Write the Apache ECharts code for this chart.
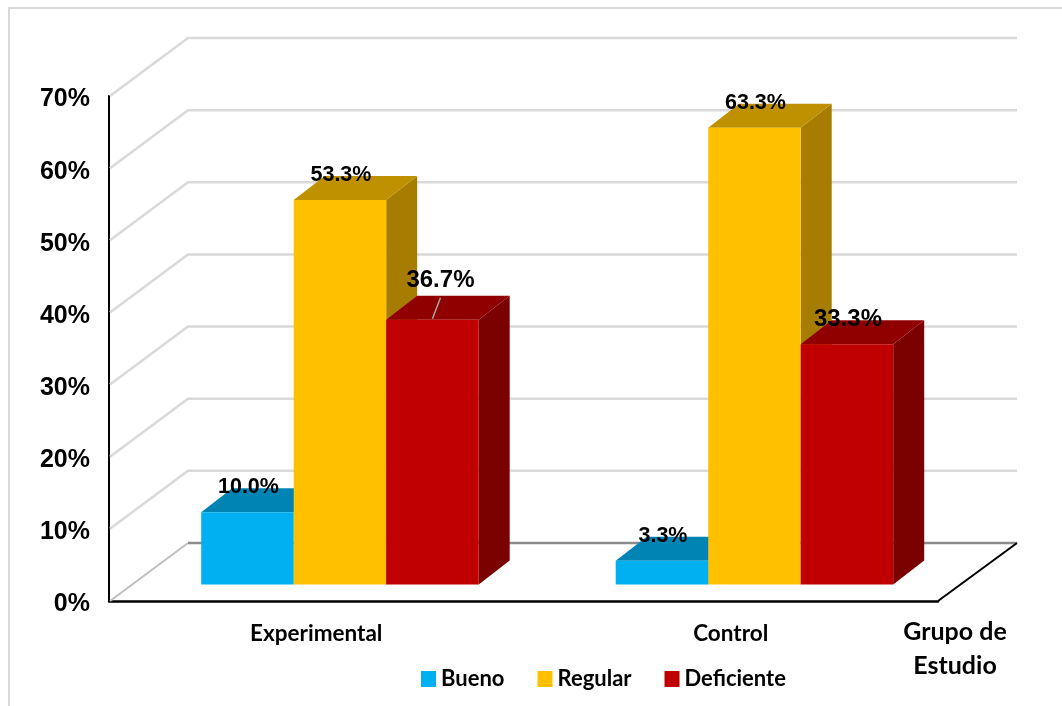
<!DOCTYPE html>
<html>
<head>
<meta charset="utf-8">
<style>html,body{margin:0;padding:0;background:#fff}#chart{width:1062px;height:706px}</style>
<script src="https://cdn.jsdelivr.net/npm/echarts@6/dist/echarts.min.js"></script>
</head>
<body>
<div id="chart"></div>
<script>
// Percentage of each rating per study group
const categories = ['Experimental', 'Control'];
const bueno = [10.0, 3.3];
const regular = [53.3, 63.3];
const deficiente = [36.7, 33.3];
const yTicks = [0, 10, 20, 30, 40, 50, 60, 70];

// Face colours of each prism: front, top, side
const palette = {
  Bueno: ['#00B0F0', '#0084B4', '#0084B4'],
  Regular: ['#FFC000', '#BF9000', '#A67D00'],
  Deficiente: ['#C00000', '#900000', '#7B0000']
};
// Label font size per category for each series
const labelSizes = { Bueno: [21.5, 21.5], Regular: [21.5, 21.5], Deficiente: [24, 24] };

// Oblique projection used for the fake 3D box, in pixels
const WALL = [79, -58];
const PLANE = [23.7, -16.5];
const DEPTH = [31, -24];
const BAR_W = 92.5;

function poly(points, fill) {
  return { type: 'polygon', shape: { points }, style: { fill } };
}
function line(points, stroke, width) {
  return { type: 'polyline', shape: { points }, style: { stroke, lineWidth: width, fill: 'none' }, silent: true };
}

// Walls and floor: one gridline per y tick, running up the side wall and along the back
function renderWall(params, api) {
  const rect = params.coordSys;
  const v = api.value(0);
  const y = api.coord([0, v])[1];
  const x0 = rect.x + 1;
  const xb = rect.x + WALL[0];
  const yb = y + WALL[1];
  const xe = rect.x + rect.width + WALL[0];
  const children = [];
  if (v === 0) {
    children.push(line([[x0, y], [xb, yb]], '#BFBFBF', 2));
    children.push(line([[xb, yb], [xe, yb]], '#8C8C8C', 2.5));
    children.push(line([[rect.x + rect.width, y], [xe, yb]], '#000000', 2));
  } else {
    children.push(line([[x0, y], [xb, yb], [xe, yb]], '#D9D9D9', 2.5));
  }
  return { type: 'group', children };
}

function makeBarRenderer(name, slot) {
  const [front, top, side] = palette[name];
  return function (params, api) {
    const idx = api.value(0);
    const val = api.value(1);
    const base = api.coord([idx, 0]);
    const head = api.coord([idx, val]);
    const xL = base[0] + PLANE[0] + (slot - 1.5) * BAR_W;
    const xR = xL + BAR_W;
    const yB = base[1] + PLANE[1];
    const yT = head[1] + PLANE[1];
    const dx = DEPTH[0], dy = DEPTH[1];
    const size = labelSizes[name][idx];
    const cx = (xL + xR) / 2;
    // The taller label on the first red bar sits off to the side with a leader line
    const hasLeader = name === 'Deficiente' && idx === 0;
    const children = [
      poly([[xR, yB], [xR + dx, yB + dy], [xR + dx, yT + dy], [xR, yT]], side),
      poly([[xL, yT], [xL + dx, yT + dy], [xR + dx, yT + dy], [xR, yT]], top),
      { type: 'rect', shape: { x: xL, y: yT, width: BAR_W, height: yB - yT }, style: { fill: front } }
    ];
    if (hasLeader) {
      children.push(line([[cx, yT - 1], [cx + 8, yT - 22]], '#A6A6A6', 1.5));
    }
    children.push({
      type: 'text',
      z2: 10,
      style: {
        x: hasLeader ? cx + 8 : cx + 1,
        y: hasLeader ? yT - 39 : yT - 25,
        text: val.toFixed(1) + '%',
        fill: '#000',
        font: 'bold ' + size + 'px "Liberation Sans"',
        align: 'center',
        verticalAlign: 'middle'
      }
    });
    return { type: 'group', children };
  };
}

function barSeries(name, slot, values) {
  return {
    name,
    type: 'custom',
    coordinateSystem: 'cartesian2d',
    itemStyle: { color: palette[name][0] },
    encode: { x: 0, y: 1 },
    data: values.map((v, i) => [i, v]),
    renderItem: makeBarRenderer(name, slot),
    z: 3
  };
}

const chart = echarts.init(document.getElementById('chart'), null, { renderer: 'canvas' });
chart.setOption({
  animation: false,
  backgroundColor: '#fff',
  graphic: [{
    type: 'rect',
    silent: true,
    shape: { x: 9, y: 8, width: 1200, height: 900 },
    style: { fill: 'none', stroke: '#D9D9D9', lineWidth: 2 }
  }],
  grid: { left: 109, right: 124, top: 96, bottom: 105, containLabel: false },
  legend: {
    left: 416,
    top: 663,
    icon: 'rect',
    itemWidth: 15,
    itemHeight: 16,
    itemGap: 33,
    data: ['Bueno', 'Regular', 'Deficiente'],
    textStyle: { fontFamily: 'Lato', fontWeight: 'bold', fontSize: 22, color: '#000' }
  },
  xAxis: {
    type: 'category',
    data: categories,
    axisTick: { show: false },
    axisLine: { lineStyle: { color: '#000', width: 2.5 } },
    axisLabel: { margin: 21, fontFamily: 'Lato', fontWeight: 'bold', fontSize: 22.5, color: '#000' },
    name: 'Grupo de\nEstudio',
    nameLocation: 'end',
    nameGap: 17,
    nameTextStyle: {
      fontFamily: 'Lato', fontWeight: 'bold', fontSize: 25, color: '#000',
      align: 'center', verticalAlign: 'top', lineHeight: 34, padding: [14, 0, 0, 0]
    }
  },
  yAxis: {
    type: 'value',
    min: yTicks[0],
    max: yTicks[yTicks.length - 1],
    interval: 10,
    splitLine: { show: false },
    axisTick: { show: false },
    axisLine: { show: true, lineStyle: { color: '#000', width: 2 } },
    axisLabel: {
      margin: 19,
      verticalAlign: 'top',
      lineHeight: 7,
      formatter: '{value}%',
      fontFamily: 'Liberation Sans',
      fontWeight: 'bold',
      fontSize: 25,
      color: '#000'
    }
  },
  series: [
    {
      name: 'walls',
      type: 'custom',
      coordinateSystem: 'cartesian2d',
      encode: { y: 0 },
      data: yTicks.map(v => [v]),
      renderItem: renderWall,
      z: 1,
      silent: true
    },
    barSeries('Bueno', 0, bueno),
    barSeries('Regular', 1, regular),
    barSeries('Deficiente', 2, deficiente)
  ]
});
</script>
</body>
</html>
